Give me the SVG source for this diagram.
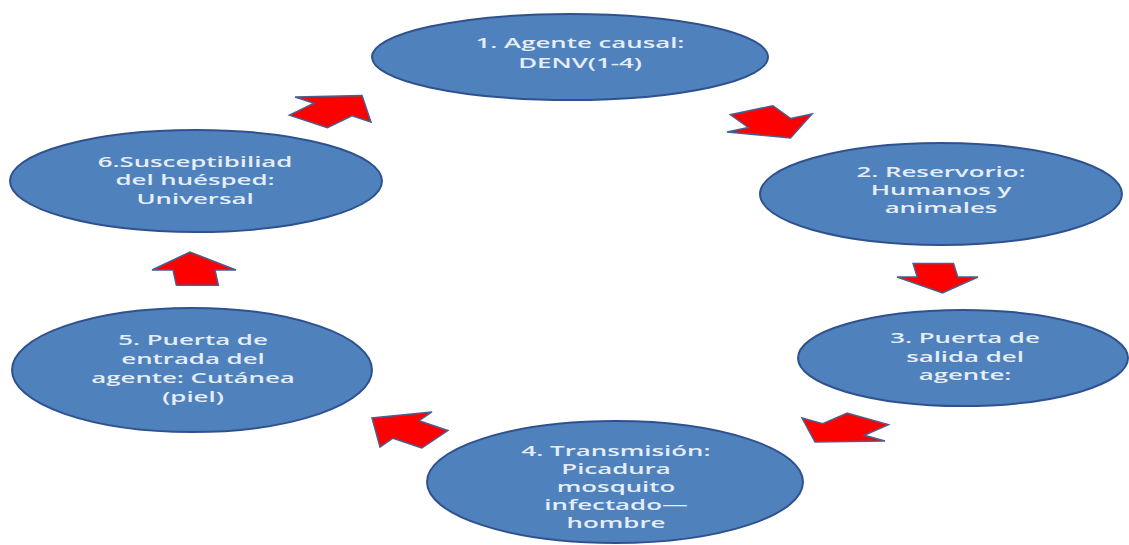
<svg xmlns="http://www.w3.org/2000/svg" xmlns:xlink="http://www.w3.org/1999/xlink" width="1129" height="545" viewBox="0 0 1129 545">
<defs>
<style>
.node{fill:#4f81bd;stroke:#2f528f;stroke-width:2}
.lbl{font-family:"Open Sans","Liberation Sans",sans-serif;font-weight:600;font-size:14.5px;fill:#e4edf8;text-anchor:middle}
.arr{fill:#ff0000;stroke:#4a5f8f;stroke-width:1.5;vector-effect:non-scaling-stroke}
</style>
<polygon id="arrow" class="arr" points="-0.85,-0.5 0,-0.5 0,-1 1,0 0,1 0,0.5 -0.85,0.5"/>
</defs>
<rect width="1129" height="545" fill="#ffffff"/>
<g id="connectors">
<use xlink:href="#arrow" href="#arrow" transform="matrix(21 15 42.5 -9 769.5 123)"/>
<use xlink:href="#arrow" href="#arrow" transform="matrix(5 16 40.5 0 937.5 277)"/>
<use xlink:href="#arrow" href="#arrow" transform="matrix(-28.5 12.5 41.5 11.5 843.5 429.5)"/>
<use xlink:href="#arrow" href="#arrow" transform="matrix(-34 -11.5 26 -17.5 406 429.5)"/>
<use xlink:href="#arrow" href="#arrow" transform="matrix(-4 -18 42 0 194 270)"/>
<use xlink:href="#arrow" href="#arrow" transform="matrix(29 -14 38 12.5 333 109.5)"/>
</g>
<g id="node1">
<ellipse class="node" cx="570" cy="57" rx="198" ry="43"/>
<g transform="translate(580 0) scale(1.78 1)"><text class="lbl" x="0" y="48">1. Agente causal:</text><text class="lbl" x="0" y="68">DENV(1-4)</text></g>
</g>
<g id="node2">
<ellipse class="node" cx="941" cy="194" rx="181" ry="51"/>
<g transform="translate(941 0) scale(1.78 1)"><text class="lbl" x="0" y="177">2. Reservorio:</text><text class="lbl" x="0" y="195">Humanos y</text><text class="lbl" x="0" y="213">animales</text></g>
</g>
<g id="node3">
<ellipse class="node" cx="963" cy="358" rx="165" ry="48"/>
<g transform="translate(965 0) scale(1.78 1)"><text class="lbl" x="0" y="343">3. Puerta de</text><text class="lbl" x="0" y="362">salida del</text><text class="lbl" x="0" y="380">agente:</text></g>
</g>
<g id="node4">
<ellipse class="node" cx="615" cy="482" rx="188" ry="61"/>
<g transform="translate(616 0) scale(1.78 1)"><text class="lbl" x="0" y="456">4. Transmisión:</text><text class="lbl" x="0" y="474">Picadura</text><text class="lbl" x="0" y="492">mosquito</text><text class="lbl" x="0" y="510">infectado—</text><text class="lbl" x="0" y="528">hombre</text></g>
</g>
<g id="node5">
<ellipse class="node" cx="192" cy="370" rx="180" ry="62"/>
<g transform="translate(193 0) scale(1.78 1)"><text class="lbl" x="0" y="345">5. Puerta de</text><text class="lbl" x="0" y="364">entrada del</text><text class="lbl" x="0" y="383">agente: Cutánea</text><text class="lbl" x="0" y="402">(piel)</text></g>
</g>
<g id="node6">
<ellipse class="node" cx="196" cy="181" rx="186" ry="51"/>
<g transform="translate(195 0) scale(1.78 1)"><text class="lbl" x="0" y="167">6.Susceptibiliad</text><text class="lbl" x="0" y="185">del huésped:</text><text class="lbl" x="0" y="204">Universal</text></g>
</g>
</svg>
